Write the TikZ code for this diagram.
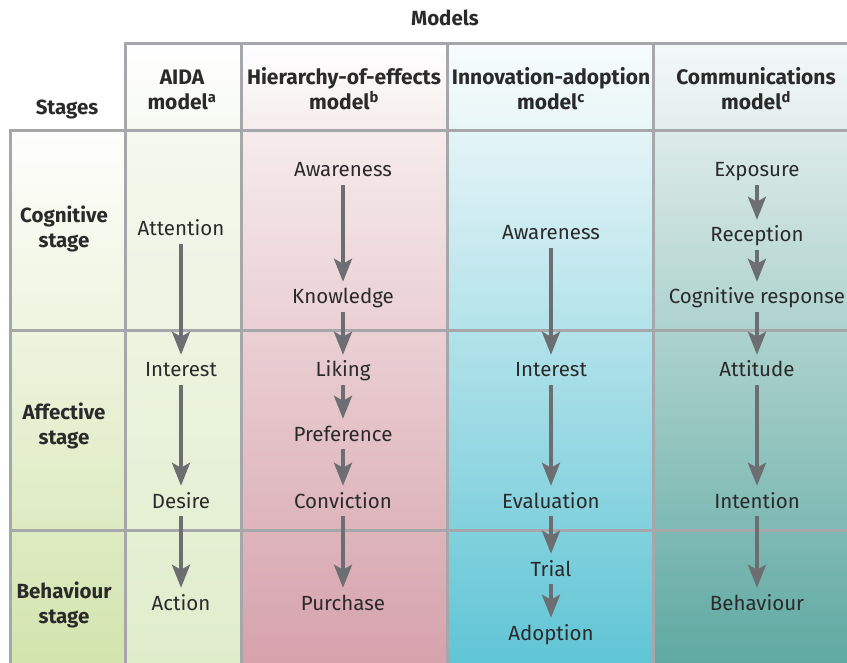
\documentclass[tikz,border=0pt]{standalone}
\usepackage{fontspec}
\setmainfont{Fira Sans}
\usetikzlibrary{arrows.meta}
\definecolor{txt}{HTML}{2A2A2A}
\definecolor{arr}{HTML}{6D6E71}
\definecolor{gridc}{HTML}{A6A7AB}
\definecolor{stgTop}{HTML}{FEFEFC}
\definecolor{stgBot}{HTML}{D3E4AE}
\definecolor{aidaTop}{HTML}{F4F8EE}
\definecolor{aidaBot}{HTML}{E0EDCB}
\definecolor{hierTop}{HTML}{F6EBEC}
\definecolor{hierBot}{HTML}{D6A2AC}
\definecolor{innTop}{HTML}{E4F4F7}
\definecolor{innBot}{HTML}{60C5D5}
\definecolor{comTop}{HTML}{DCEBE8}
\definecolor{comBot}{HTML}{5FA9A2}
\definecolor{aidaHd}{HTML}{F6F9F2}
\definecolor{hierHd}{HTML}{F5ECEC}
\definecolor{innHd}{HTML}{E8F6F7}
\definecolor{comHd}{HTML}{E2EEEC}
\begin{document}
\begin{tikzpicture}[x=1pt,y=-1pt,
  lbl/.style={font=\fontsize{20.5}{24}\selectfont, text=txt, inner sep=0pt, text height=14pt, text depth=0pt, anchor=base},
  hdr/.style={font=\bfseries\fontsize{21}{24}\selectfont, text=txt, inner sep=0pt, anchor=base},
  stg/.style={font=\bfseries\fontsize{20.5}{24}\selectfont, text=txt, inner sep=0pt, anchor=base},
  flow/.style={draw=arr, line width=4pt, -{Stealth[length=23pt,width=18pt,inset=5pt]}, shorten <=8pt, shorten >=8pt},
  gridline/.style={draw=gridc, line width=3pt}]
\useasboundingbox (0,0) rectangle (847,663);
\fill[white] (0,0) rectangle (847,663);
% header cells
\shade[top color=white, bottom color=aidaHd] (125,44) rectangle (241,131);
\shade[top color=white, bottom color=hierHd] (241,44) rectangle (447,131);
\shade[top color=white!60!innHd, bottom color=innHd] (447,44) rectangle (653,131);
\shade[top color=white!60!comHd, bottom color=comHd] (653,44) rectangle (847,131);
% body columns
\shade[top color=stgTop, bottom color=stgBot] (10,131) rectangle (125,663);
\shade[top color=aidaTop, bottom color=aidaBot] (125,131) rectangle (241,663);
\shade[top color=hierTop, bottom color=hierBot] (241,131) rectangle (447,663);
\shade[top color=innTop, bottom color=innBot] (447,131) rectangle (653,663);
\shade[top color=comTop, bottom color=comBot] (653,131) rectangle (847,663);
% grid
\draw[gridline] (123.5,44) -- (847,44);
\draw[gridline] (8.5,131) -- (847,131);
\draw[gridline] (10,331) -- (847,331);
\draw[gridline] (10,530) -- (847,530);
\draw[gridline] (10,131) -- (10,663);
\draw[gridline] (125,44) -- (125,663);
\draw[gridline] (241,44) -- (241,663);
\draw[gridline] (447,44) -- (447,663);
\draw[gridline] (653,44) -- (653,663);
% headers
\node[stg] (models) at (445,26) {Models};
\node[stg] (stages) at (67,114.5) {Stages};
\node[hdr] (h1a) at (182,85) {AIDA};
\node[hdr] (h1b) at (182,110) {model\textsuperscript{a}};
\node[hdr] (h2a) at (344,85) {Hierarchy-of-effects};
\node[hdr] (h2b) at (344,110) {model\textsuperscript{b}};
\node[hdr] (h3a) at (551,85) {Innovation-adoption};
\node[hdr] (h3b) at (551,110) {model\textsuperscript{c}};
\node[hdr] (h4a) at (756,85) {Communications};
\node[hdr] (h4b) at (756,110) {model\textsuperscript{d}};
% stage labels
\node[stg] (s1a) at (64,223) {Cognitive};
\node[stg] (s1b) at (64,247.5) {stage};
\node[stg] (s2a) at (64,419) {Affective};
\node[stg] (s2b) at (64,444.5) {stage};
\node[stg] (s3a) at (64,598) {Behaviour};
\node[stg] (s3b) at (64,623.5) {stage};
% AIDA
\node[lbl] (a1) at (181,236) {Attention};
\node[lbl] (a2) at (181,377) {Interest};
\node[lbl] (a3) at (181,508) {Desire};
\node[lbl] (a4) at (181,610) {Action};
% Hierarchy
\node[lbl] (b1) at (343,177) {Awareness};
\node[lbl] (b2) at (343,304) {Knowledge};
\node[lbl] (b3) at (343,377) {Liking};
\node[lbl] (b4) at (343,441) {Preference};
\node[lbl] (b5) at (343,508) {Conviction};
\node[lbl] (b6) at (343,610) {Purchase};
% Innovation
\node[lbl] (c1) at (551,240) {Awareness};
\node[lbl] (c2) at (551,377) {Interest};
\node[lbl] (c3) at (551,508) {Evaluation};
\node[lbl] (c4) at (551,576) {Trial};
\node[lbl] (c5) at (551,640) {Adoption};
% Communications
\node[lbl] (d1) at (757,177) {Exposure};
\node[lbl] (d2) at (757,242) {Reception};
\node[lbl] (d3) at (757,304) {Cognitive response};
\node[lbl] (d4) at (757,377) {Attitude};
\node[lbl] (d5) at (757,508) {Intention};
\node[lbl] (d6) at (757,610) {Behaviour};
% arrows
\foreach \p/\q in {a1/a2,a2/a3,a3/a4,b1/b2,b2/b3,b3/b4,b4/b5,b5/b6,c1/c2,c2/c3,c3/c4,c4/c5,d1/d2,d2/d3,d3/d4,d4/d5,d5/d6}
  \draw[flow] (\p.south) -- (\q.north);
\end{tikzpicture}
\end{document}
